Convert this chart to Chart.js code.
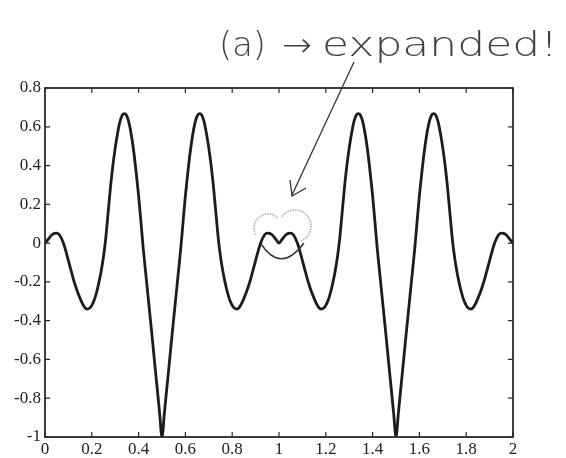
<!DOCTYPE html>
<html><head><meta charset="utf-8">
<script src="https://cdn.jsdelivr.net/npm/chart.js@4/dist/chart.umd.min.js"></script>
<style>html,body{margin:0;padding:0;background:#fff;}</style>
</head><body>
<canvas id="c" width="566" height="458"></canvas>
<script>
// ---- data ----
const xValues = [
0,0.01,0.02,0.03,0.04,0.05,0.06,0.07,0.08,0.09,
0.1,0.11,0.12,0.13,0.14,0.15,0.16,0.17,0.18,0.19,
0.2,0.21,0.22,0.23,0.24,0.25,0.26,0.27,0.28,0.29,
0.3,0.31,0.32,0.33,0.34,0.35,0.36,0.37,0.38,0.39,
0.4,0.41,0.42,0.43,0.44,0.45,0.46,0.47,0.48,0.49,
0.5,0.51,0.52,0.53,0.54,0.55,0.56,0.57,0.58,0.59,
0.6,0.61,0.62,0.63,0.64,0.65,0.66,0.67,0.68,0.69,
0.7,0.71,0.72,0.73,0.74,0.75,0.76,0.77,0.78,0.79,
0.8,0.81,0.82,0.83,0.84,0.85,0.86,0.87,0.88,0.89,
0.9,0.91,0.92,0.93,0.94,0.95,0.96,0.97,0.98,0.99,
1,1.01,1.02,1.03,1.04,1.05,1.06,1.07,1.08,1.09,
1.1,1.11,1.12,1.13,1.14,1.15,1.16,1.17,1.18,1.19,
1.2,1.21,1.22,1.23,1.24,1.25,1.26,1.27,1.28,1.29,
1.3,1.31,1.32,1.33,1.34,1.35,1.36,1.37,1.38,1.39,
1.4,1.41,1.42,1.43,1.44,1.45,1.46,1.47,1.48,1.49,
1.5,1.51,1.52,1.53,1.54,1.55,1.56,1.57,1.58,1.59,
1.6,1.61,1.62,1.63,1.64,1.65,1.66,1.67,1.68,1.69,
1.7,1.71,1.72,1.73,1.74,1.75,1.76,1.77,1.78,1.79,
1.8,1.81,1.82,1.83,1.84,1.85,1.86,1.87,1.88,1.89,
1.9,1.91,1.92,1.93,1.94,1.95,1.96,1.97,1.98,1.99,
2
];
const yValues = [
0,0.014,0.03,0.043,0.05,0.052,0.045,0.025,-0.005,-0.045,
-0.09,-0.135,-0.18,-0.22,-0.255,-0.285,-0.312,-0.332,-0.34,-0.336,
-0.321,-0.295,-0.256,-0.205,-0.145,-0.07,0.03,0.16,0.29,0.40,
0.49,0.565,0.625,0.66,0.668,0.655,0.615,0.55,0.465,0.36,
0.245,0.11,-0.03,-0.15,-0.27,-0.39,-0.51,-0.635,-0.755,-0.88,
-1,-0.88,-0.755,-0.635,-0.51,-0.39,-0.27,-0.15,-0.03,0.11,
0.245,0.36,0.465,0.55,0.615,0.655,0.668,0.66,0.625,0.565,
0.49,0.40,0.29,0.16,0.03,-0.07,-0.145,-0.205,-0.256,-0.295,
-0.321,-0.336,-0.34,-0.332,-0.312,-0.285,-0.255,-0.22,-0.18,-0.135,
-0.09,-0.045,-0.005,0.025,0.045,0.052,0.05,0.043,0.03,0.014,
0,0.014,0.03,0.043,0.05,0.052,0.045,0.025,-0.005,-0.045,
-0.09,-0.135,-0.18,-0.22,-0.255,-0.285,-0.312,-0.332,-0.34,-0.336,
-0.321,-0.295,-0.256,-0.205,-0.145,-0.07,0.03,0.16,0.29,0.40,
0.49,0.565,0.625,0.66,0.668,0.655,0.615,0.55,0.465,0.36,
0.245,0.11,-0.03,-0.15,-0.27,-0.39,-0.51,-0.635,-0.755,-0.88,
-1,-0.88,-0.755,-0.635,-0.51,-0.39,-0.27,-0.15,-0.03,0.11,
0.245,0.36,0.465,0.55,0.615,0.655,0.668,0.66,0.625,0.565,
0.49,0.40,0.29,0.16,0.03,-0.07,-0.145,-0.205,-0.256,-0.295,
-0.321,-0.336,-0.34,-0.332,-0.312,-0.285,-0.255,-0.22,-0.18,-0.135,
-0.09,-0.045,-0.005,0.025,0.045,0.052,0.05,0.043,0.03,0.014,
0
];
const xTickValues = [0,0.2,0.4,0.6,0.8,1,1.2,1.4,1.6,1.8,2];
const xTickLabels = ['0','0.2','0.4','0.6','0.8','1','1.2','1.4','1.6','1.8','2'];
const yTickValues = [-1,-0.8,-0.6,-0.4,-0.2,0,0.2,0.4,0.6,0.8];
const yTickLabels = ['-1','-0.8','-0.6','-0.4','-0.2','0','0.2','0.4','0.6','0.8'];
const noteParts = ['(a)', '\u2192', 'expanded!'];

const points = xValues.map((x, i) => ({x: x, y: yValues[i]}));
const tickFont = {family: '"Liberation Serif", "DejaVu Serif", serif', size: 17};

const framePlugin = {
  id: 'frame',
  afterDatasetsDraw(chart) {
    const {ctx, chartArea: a, scales} = chart;
    ctx.save();
    ctx.strokeStyle = '#2a2a2a';
    ctx.lineWidth = 1.8;
    ctx.strokeRect(a.left, a.top, a.right - a.left, a.bottom - a.top);
    ctx.lineWidth = 1.2;
    ctx.beginPath();
    xTickValues.forEach(v => {
      const px = scales.x.getPixelForValue(v);
      ctx.moveTo(px, a.bottom); ctx.lineTo(px, a.bottom - 5);
      ctx.moveTo(px, a.top); ctx.lineTo(px, a.top + 5);
    });
    yTickValues.forEach(v => {
      const py = scales.y.getPixelForValue(v);
      ctx.moveTo(a.left, py); ctx.lineTo(a.left + 5, py);
      ctx.moveTo(a.right, py); ctx.lineTo(a.right - 5, py);
    });
    ctx.stroke();
    ctx.restore();
  },
  afterDraw(chart) {
    const ctx = chart.ctx;
    ctx.save();
    // handwritten note
    ctx.fillStyle = '#404040';
    ctx.textBaseline = 'alphabetic';
    const boxes = [[219, 266], [282, 312], [322, 558]];
    noteParts.forEach((t, i) => {
      ctx.font = '200 30px "DejaVu Sans", sans-serif';
      const w = ctx.measureText(t).width;
      const [x0, x1] = boxes[i];
      ctx.save();
      ctx.translate(x0, 56);
      ctx.scale((x1 - x0) / w, 1.1);
      ctx.fillText(t, 0, 0);
      ctx.restore();
    });
    // arrow
    ctx.strokeStyle = '#333';
    ctx.lineWidth = 1.3;
    ctx.beginPath();
    ctx.moveTo(354, 62); ctx.lineTo(292, 195);
    ctx.moveTo(290, 180); ctx.lineTo(292, 196); ctx.lineTo(306, 188);
    ctx.stroke();
    // pencil circles
    ctx.strokeStyle = '#b0b0b0';
    ctx.lineWidth = 1.6;
    ctx.setLineDash([1.5, 1]);
    ctx.beginPath();
    ctx.arc(268, 228, 14, Math.PI * 0.85, Math.PI * 1.75);
    ctx.stroke();
    ctx.beginPath();
    ctx.arc(295, 226, 16, Math.PI * 1.2, Math.PI * 2.4);
    ctx.stroke();
    ctx.setLineDash([]);
    // dark underline arc
    ctx.strokeStyle = '#333';
    ctx.lineWidth = 1.4;
    ctx.beginPath();
    ctx.moveTo(261, 244);
    ctx.quadraticCurveTo(281, 274, 304, 243);
    ctx.stroke();
    ctx.restore();
  }
};

new Chart(document.getElementById('c'), {
  type: 'line',
  data: {
    datasets: [{
      data: points,
      borderColor: '#1c1c1c',
      borderWidth: 2.8,
      pointRadius: 0,
      cubicInterpolationMode: 'monotone',
      fill: false
    }]
  },
  options: {
    responsive: false,
    animation: false,
    devicePixelRatio: 1,
    layout: {padding: {left: 0, top: 88, right: 53, bottom: 0}},
    plugins: {legend: {display: false}, tooltip: {enabled: false}},
    scales: {
      x: {
        type: 'linear', min: 0, max: 2,
        afterBuildTicks: s => { s.ticks = xTickValues.map(v => ({value: v})); },
        afterFit: s => { s.height = 21; },
        grid: {drawOnChartArea: false, drawTicks: false, display: false},
        border: {display: false},
        ticks: {padding: 2, color: '#222', font: tickFont, maxRotation: 0, autoSkip: false,
          callback: (v, i) => xTickLabels[i]}
      },
      y: {
        type: 'linear', min: -1, max: 0.8,
        afterBuildTicks: s => { s.ticks = yTickValues.map(v => ({value: v})); },
        afterFit: s => { s.width = 45; },
        grid: {drawOnChartArea: false, drawTicks: false, display: false},
        border: {display: false},
        ticks: {padding: 4, color: '#222', font: tickFont, autoSkip: false,
          callback: (v, i) => yTickLabels[i]}
      }
    }
  },
  plugins: [framePlugin]
});
</script>
</body></html>
